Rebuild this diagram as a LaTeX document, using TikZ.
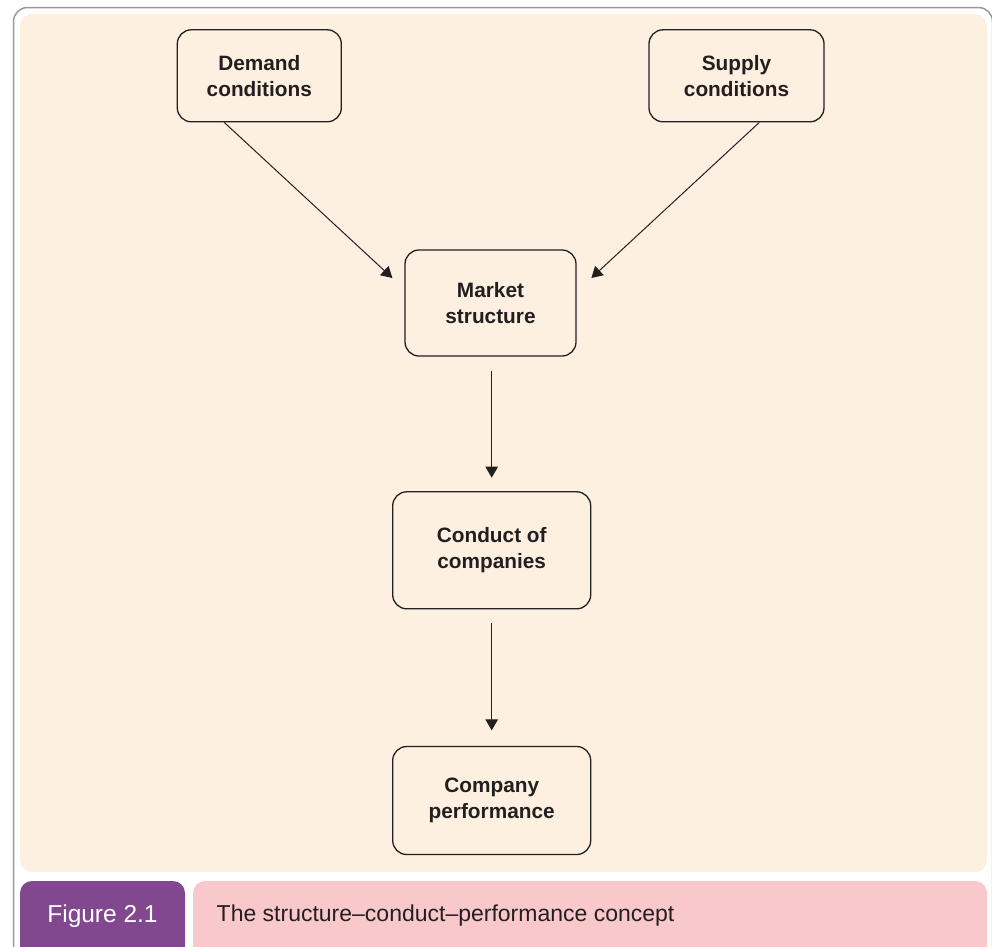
\documentclass[tikz,border=0pt]{standalone}
\usepackage{fontspec}
\setmainfont{Liberation Sans}
\usetikzlibrary{arrows.meta}
\definecolor{panel}{HTML}{FDF0E1}
\definecolor{ink}{HTML}{231F20}
\definecolor{framegray}{HTML}{999999}
\definecolor{figpurple}{HTML}{82488F}
\definecolor{figpink}{HTML}{F9C8CB}
\begin{document}
\begin{tikzpicture}[x=1pt,y=-1pt,
  stage/.style={draw=ink, line width=1.3pt, rounded corners=14pt, fill=panel,
    inner sep=0pt, align=center, text=ink,
    font=\fontsize{20.8}{26}\selectfont\bfseries},
  link/.style={draw=ink, line width=1pt, -{Triangle[length=11pt,width=12.5pt]}},
  captext/.style={inner sep=0pt}]
\useasboundingbox (0,0) rectangle (992,946);
\clip (0,0) rectangle (992,946);

% outer frame and tinted panel
\draw[framegray, line width=1.5pt, rounded corners=14pt]
  (13.5,960) -- (13.5,7.5) -- (992.5,7.5) -- (992.5,960);
\fill[panel, rounded corners=12pt] (20,14) rectangle (987,872);

% caption bar
\fill[figpurple, rounded corners=12pt] (20,881) rectangle (185,975);
\fill[figpink, rounded corners=12pt] (193,881) rectangle (987,975);
\node[captext, text=white, anchor=base, font=\fontsize{24.5}{29}\selectfont]
  (figlabel) at (102.5,922.3) {Figure 2.1};
\node[captext, text=ink, anchor=base west, font=\fontsize{23}{28}\selectfont]
  (figtitle) at (216.5,921.5) {The structure–conduct–performance concept};

% stages
\node[stage, minimum width=164pt, minimum height=92pt] (dem) at (259.3,75.8)
  {Demand\\conditions};
\node[stage, minimum width=175pt, minimum height=92pt] (sup) at (736.5,75.8)
  {Supply\\conditions};
\node[stage, minimum width=171pt, minimum height=106pt] (mkt) at (490.5,303)
  {Market\\structure};
\node[stage, minimum width=198pt, minimum height=117pt] (con) at (491.7,550.3)
  {Conduct of\\companies};
\node[stage, minimum width=198pt, minimum height=108pt] (perf) at (491.7,800.5)
  {Company\\performance};

% influences
\draw[link] ([xshift=-35pt]dem.south) -- ([xshift=-12pt,yshift=25pt]mkt.west);
\draw[link] ([xshift=22.8pt]sup.south) -- ([xshift=14.7pt,yshift=25pt]mkt.east);
\draw[link] ([yshift=-14pt]con.north |- mkt.south) -- ([yshift=13.5pt]con.north);
\draw[link] ([yshift=-13.5pt]con.south) -- ([yshift=15.5pt]perf.north);
\end{tikzpicture}
\end{document}
